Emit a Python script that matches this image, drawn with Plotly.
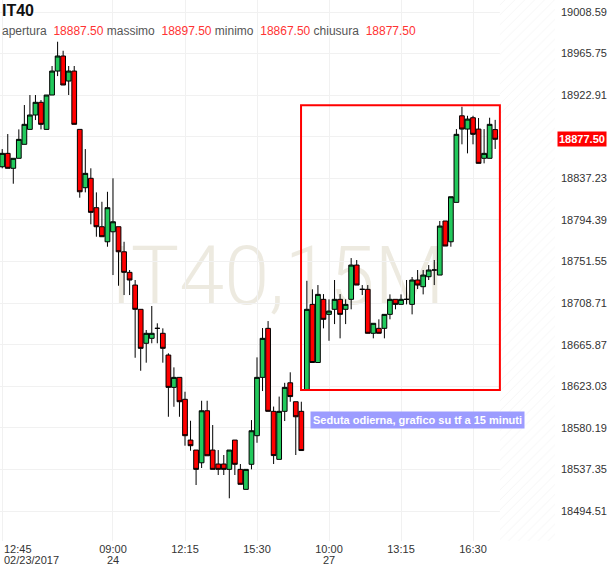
import plotly.graph_objects as go

# ---------------- data (15-minute bars, IT40) ----------------
OPEN = [18849.2, 18863.0, 18847.6, 18857.9, 18872.3, 18887.7, 18902.5, 18915.6, 18887.7, 18923.1,
        18947.8, 18963.3, 18937.5, 18947.8, 18887.7, 18827.6, 18837.3, 18807.0, 18787.4, 18771.9,
        18782.2, 18787.4, 18761.6, 18740.4, 18727.3, 18702.3, 18667.3, 18672.4, 18682.7, 18677.6,
        18655.2, 18621.9, 18632.2, 18609.6, 18567.6, 18557.3, 18544.2, 18597.8, 18557.3, 18542.9,
        18542.9, 18537.4, 18567.6, 18537.4, 18516.8, 18542.6, 18572.1, 18632.2, 18682.7, 18597.2,
        18547.7, 18597.2, 18626.6, 18607.1, 18597.2, 18619.1, 18707.4, 18647.5, 18712.6, 18697.1,
        18702.3, 18712.6, 18702.3, 18712.6, 18747.9, 18722.9, 18722.9, 18677.6, 18682.7, 18682.7,
        18697.1, 18712.6, 18707.4, 18712.6, 18707.4, 18732.5, 18725.6, 18735.9, 18742.8, 18737.6,
        18793.3, 18771.9, 18812.5, 18901.7, 18888.0, 18899.7, 18888.0, 18857.9, 18857.9, 18887.5]
HIGH = [18867.4, 18882.9, 18857.9, 18887.7, 18912.8, 18923.1, 18923.1, 18917.9, 18923.1, 18953.0,
        18978.0, 18968.7, 18953.0, 18953.0, 18887.7, 18867.4, 18847.6, 18822.8, 18813.1, 18823.4,
        18837.3, 18787.4, 18771.9, 18742.8, 18732.5, 18702.3, 18681.0, 18705.7, 18687.9, 18682.7,
        18657.0, 18642.5, 18632.2, 18617.4, 18587.5, 18557.3, 18608.1, 18608.1, 18583.1, 18557.3,
        18552.2, 18557.3, 18567.6, 18542.9, 18537.4, 18588.2, 18652.8, 18683.0, 18690.2, 18602.1,
        18612.4, 18626.6, 18637.4, 18607.1, 18607.1, 18731.7, 18722.9, 18727.3, 18718.0, 18712.6,
        18732.5, 18718.0, 18712.6, 18755.1, 18753.1, 18727.3, 18727.3, 18687.9, 18692.0, 18697.1,
        18717.7, 18712.6, 18717.7, 18732.5, 18735.6, 18742.8, 18742.8, 18747.9, 18753.1, 18793.3,
        18793.3, 18818.3, 18888.0, 18911.0, 18901.7, 18901.7, 18899.4, 18888.0, 18899.7, 18897.5]
LOW = [18847.6, 18847.6, 18831.7, 18857.9, 18872.3, 18887.7, 18897.3, 18887.7, 18887.7, 18923.1,
       18942.6, 18933.4, 18923.1, 18892.9, 18817.3, 18822.8, 18789.9, 18777.1, 18777.1, 18766.8,
       18737.6, 18726.6, 18717.0, 18717.0, 18652.4, 18639.0, 18647.3, 18667.3, 18667.3, 18647.3,
       18591.6, 18601.9, 18591.6, 18561.8, 18556.6, 18521.3, 18538.8, 18551.4, 18537.4, 18531.6,
       18531.6, 18507.6, 18531.6, 18522.0, 18516.8, 18537.4, 18564.8, 18618.1, 18597.2, 18542.9,
       18547.7, 18587.2, 18607.1, 18552.2, 18556.8, 18619.1, 18647.5, 18647.5, 18682.7, 18669.9,
       18687.1, 18672.4, 18687.1, 18702.3, 18727.3, 18717.0, 18677.6, 18672.4, 18677.6, 18672.4,
       18692.0, 18702.3, 18707.4, 18707.4, 18697.1, 18723.2, 18717.7, 18732.5, 18727.3, 18737.6,
       18767.5, 18766.8, 18812.5, 18872.3, 18863.0, 18872.3, 18852.7, 18852.7, 18857.9, 18867.5]
CLOSE = [18863.0, 18847.6, 18857.9, 18877.4, 18892.9, 18902.5, 18915.6, 18892.9, 18923.1, 18947.8,
         18963.3, 18933.4, 18947.8, 18892.9, 18823.4, 18842.4, 18802.2, 18787.4, 18777.1, 18807.0,
         18792.5, 18761.6, 18740.4, 18732.5, 18702.3, 18662.1, 18677.6, 18677.6, 18682.7, 18662.1,
         18621.9, 18632.2, 18607.1, 18572.1, 18561.8, 18537.4, 18597.8, 18551.4, 18537.4, 18537.4,
         18537.4, 18557.3, 18542.6, 18522.0, 18537.4, 18577.2, 18632.2, 18672.4, 18597.2, 18551.6,
         18597.2, 18621.9, 18612.4, 18591.6, 18556.8, 18702.3, 18647.5, 18717.7, 18692.0, 18700.5,
         18712.6, 18697.1, 18707.4, 18747.9, 18727.3, 18722.9, 18677.6, 18687.9, 18677.6, 18697.1,
         18712.6, 18707.4, 18712.6, 18712.6, 18732.5, 18727.3, 18737.6, 18742.8, 18742.8, 18788.1,
         18767.5, 18818.3, 18882.6, 18888.0, 18898.3, 18882.6, 18852.7, 18863.0, 18892.9, 18877.5]

DAY_STARTS = [0, 20, 55]            # bar index where each session begins on the chart
X_TICK_IDX = [0, 20, 33, 46, 59, 72, 85]
X_TICK_TIME = ["12:45", "09:00", "12:15", "15:30", "10:00", "13:15", "16:30"]
X_TICK_DATE = ["02/23/2017", "24", "", "", "27", "", ""]

Y_TICK_VALS = [19008.59, 18965.75, 18922.91, 18880.07, 18837.23, 18794.39, 18751.55,
               18708.71, 18665.87, 18623.03, 18580.19, 18537.35, 18494.51]
Y_TICK_TEXT = ["19008.59", "18965.75", "18922.91", "", "18837.23", "18794.39", "18751.55",
               "18708.71", "18665.87", "18623.03", "18580.19", "18537.35", "18494.51"]

SYMBOL = "IT40"
TIMEFRAME = "15M"
FIELD_NAMES = ["apertura", "massimo", "minimo", "chiusura"]
NOTE_TEXT = "Seduta odierna, grafico su tf a 15 minuti"

# ---------------- figure ----------------
n = len(CLOSE)
X = list(range(n))
X_MIN, X_MAX = -0.4, 99.8
Y_MIN, Y_MAX = 18463.6, 19021.0

fig = go.Figure()

# hatched "future" area to the right of the last bar
hatch_x0 = n - 0.15
fig.add_trace(go.Bar(
    x=[(hatch_x0 + X_MAX) / 2], y=[Y_MAX - Y_MIN], base=[Y_MIN],
    width=[X_MAX - hatch_x0],
    marker=dict(color="white", line=dict(width=0),
                pattern=dict(shape="/", fgcolor="#e8e8e8", bgcolor="white", size=7, solidity=0.12)),
    hoverinfo="skip", showlegend=False))

fig.add_trace(go.Candlestick(
    x=X, open=OPEN, high=HIGH, low=LOW, close=CLOSE,
    increasing=dict(fillcolor="#22c95c", line=dict(color="#000000", width=1)),
    decreasing=dict(fillcolor="#ff0000", line=dict(color="#000000", width=1)),
    showlegend=False))

# today's session box
d0 = DAY_STARTS[-1]
fig.add_shape(type="rect", xref="x", yref="y",
              x0=d0 - 1.05, x1=n - 1 + 0.85,
              y0=min(LOW[d0:]), y1=max(HIGH[d0:]) + 1.5,
              line=dict(color="#ff0000", width=2), fillcolor="rgba(0,0,0,0)", layer="above")

# watermark (below traces)
fig.add_shape(type="rect", xref="paper", yref="paper", x0=0, x1=1, y0=0, y1=1,
              line=dict(width=0), fillcolor="rgba(0,0,0,0)", layer="below",
              label=dict(text=f"{SYMBOL},{TIMEFRAME}", textposition="middle center",
                         font=dict(family="Roboto", size=81, color="rgba(200,190,160,0.32)", weight=300)))

ann = []
# header
ann.append(dict(xref="paper", yref="paper", x=0, y=1 - 10 / 541, xanchor="left", yanchor="middle",
                text=f"<b>{SYMBOL}</b>", showarrow=False,
                font=dict(family="Arial", size=16, color="#111111")))
vals = [OPEN[-1], HIGH[-1], LOW[-1], CLOSE[-1]]
parts = []
for name, v in zip(FIELD_NAMES, vals):
    parts.append(f"{name}\u00a0\u00a0<span style='color:#ff3333'>{v:.2f}</span>")
ann.append(dict(xref="paper", yref="paper", x=0, y=1 - 31 / 541, xanchor="left", yanchor="middle",
                text=" ".join(parts), showarrow=False,
                font=dict(family="Arial", size=12, color="#555555")))

# first x label (clamped to the left edge) and date lines
ann.append(dict(xref="paper", yref="paper", x=0.003, y=-8 / 541, xanchor="left", yanchor="middle",
                text=X_TICK_TIME[0], showarrow=False, font=dict(family="Arial", size=11, color="#333333")))
ann.append(dict(xref="paper", yref="paper", x=0.003, y=-19 / 541, xanchor="left", yanchor="middle",
                text=X_TICK_DATE[0], showarrow=False, font=dict(family="Arial", size=11, color="#333333")))
for idx, d in zip(X_TICK_IDX[1:], X_TICK_DATE[1:]):
    if d:
        ann.append(dict(xref="x", yref="paper", x=idx, y=-19 / 541, xanchor="center", yanchor="middle",
                        text=d, showarrow=False, font=dict(family="Arial", size=11, color="#333333")))

# last price marker
ann.append(dict(xref="paper", yref="y", x=1, xshift=2, y=CLOSE[-1], xanchor="left", yanchor="middle",
                text=f"<b>{CLOSE[-1]:.2f}</b>", showarrow=False, bgcolor="#ff0000", borderpad=1,
                font=dict(family="Arial", size=11, color="white")))

# note label
ann.append(dict(xref="x", yref="y", x=75.05, y=18588.2, xanchor="center", yanchor="middle",
                text=f"<b>{NOTE_TEXT}</b>", showarrow=False, bgcolor="#9c9cff", borderpad=2,
                font=dict(family="Arial", size=11, color="white")))

fig.update_layout(
    width=610, height=568,
    margin=dict(l=0, r=55, t=0, b=27),
    paper_bgcolor="white", plot_bgcolor="white",
    annotations=ann, barmode="overlay",
    boxgap=0.1, boxgroupgap=0.05,
    xaxis=dict(range=[X_MIN, X_MAX], tickmode="array", tickvals=X_TICK_IDX,
               ticktext=[""] + X_TICK_TIME[1:], showgrid=True, gridcolor="#f1f1f1", gridwidth=1,
               zeroline=False, showline=False, ticks="", rangeslider=dict(visible=False),
               tickfont=dict(family="Arial", size=11, color="#333333")),
    yaxis=dict(range=[Y_MIN, Y_MAX], side="right", tickmode="array", tickvals=Y_TICK_VALS,
               ticktext=Y_TICK_TEXT, showgrid=True, gridcolor="#f1f1f1", gridwidth=1,
               zeroline=False, showline=False, ticks="", ticklabelstandoff=5,
               tickfont=dict(family="Arial", size=11, color="#333333")),
    hovermode=False,
)

fig.write_html("out.html", config={"displayModeBar": False},
               post_script="document.body.style.margin='0px';")
